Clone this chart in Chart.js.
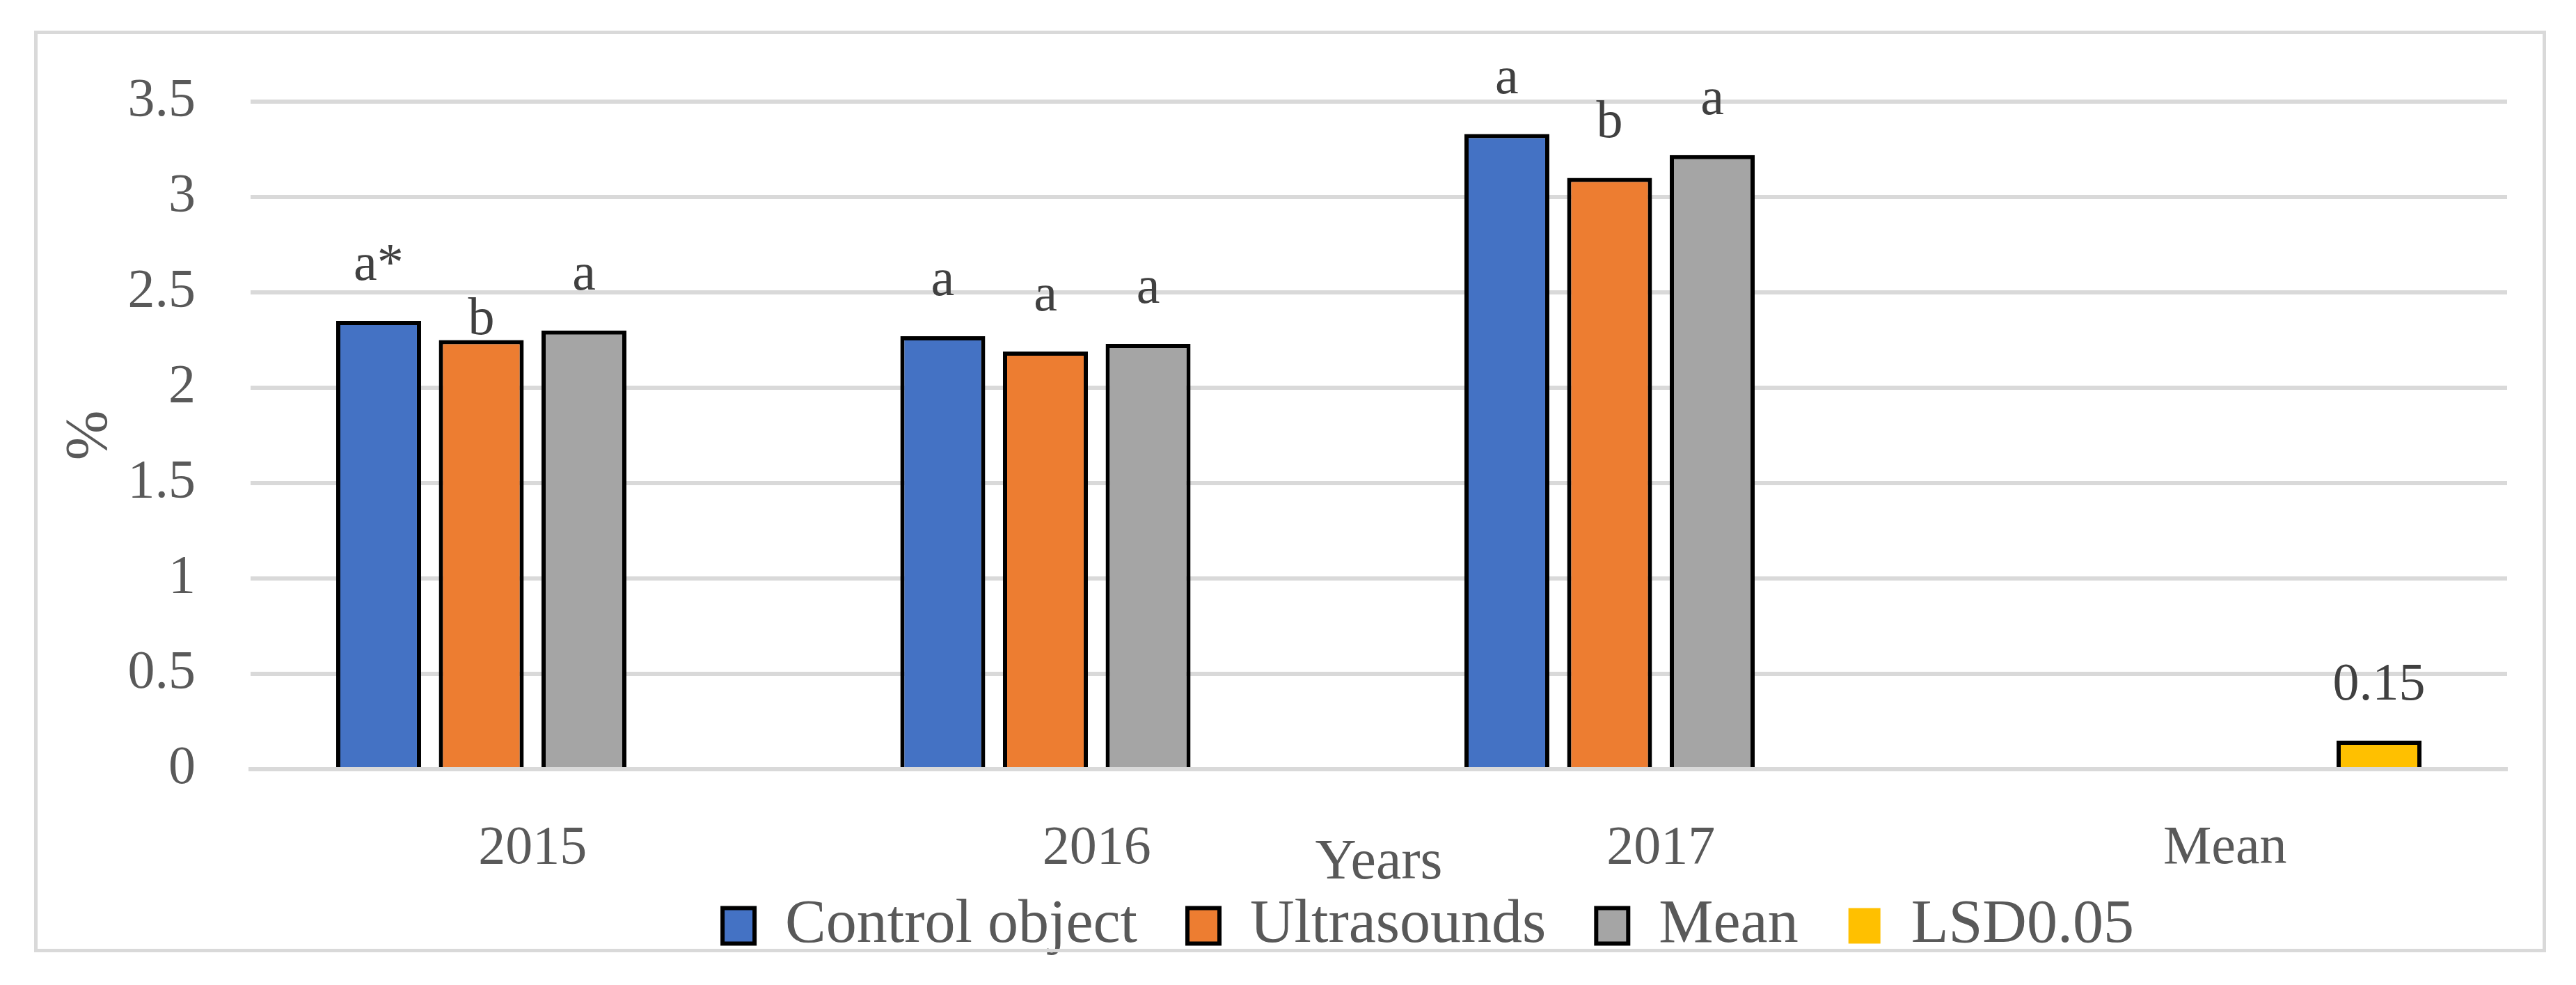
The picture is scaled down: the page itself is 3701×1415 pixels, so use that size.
<!DOCTYPE html>
<html>
<head>
<meta charset="utf-8">
<script src="https://cdn.jsdelivr.net/npm/chart.js@4"></script>
<style>
  html, body { margin: 0; padding: 0; background: #fff; }
  #wrap { position: relative; width: 3701px; height: 1415px; }
  #frame { position: absolute; left: 49px; top: 44px; width: 3599px; height: 1314px; border: 5px solid #d9d9d9; pointer-events: none; }
  canvas { position: absolute; left: 0; top: 0; }
</style>
</head>
<body>
<div id="wrap">
  <canvas id="chart" width="3701" height="1415"></canvas>
  <div id="frame"></div>
</div>
<script>
// Data
const categories = ['2015', '2016', '2017', 'Mean'];
const controlValues = [2.35, 2.27, 3.33, null];
const ultrasoundValues = [2.25, 2.19, 3.10, null];
const meanValues = [2.30, 2.23, 3.22, null];
const lsdValues = [null, null, null, 0.15];

// significance letters printed above the bars
const controlLetters = ['a*', 'a', 'a', ''];
const ultrasoundLetters = ['b', 'a', 'b', ''];
const meanLetters = ['a', 'a', 'a', ''];
const lsdLetters = ['', '', '', '0.15'];

const yTicks = [0, 0.5, 1, 1.5, 2, 2.5, 3, 3.5];

const serif = "'Liberation Serif', 'DejaVu Serif', serif";
Chart.defaults.font.family = serif;
Chart.defaults.color = '#595959';

// draws the letters above each bar
const barLetters = {
  id: 'barLetters',
  afterDatasetsDraw(chart) {
    const ctx = chart.ctx;
    ctx.save();
    ctx.font = '76px ' + serif;
    ctx.fillStyle = '#404040';
    ctx.textAlign = 'center';
    ctx.textBaseline = 'alphabetic';
    chart.data.datasets.forEach((ds, d) => {
      chart.getDatasetMeta(d).data.forEach((bar, i) => {
        const text = ds.letters[i];
        if (!text) return;
        // the "b" of 2015 sits right on top of its bar in the original
        const lift = (d === 1 && i === 0) ? 9 : 59;
        ctx.fillText(text, bar.x, bar.y - lift);
      });
    });
    ctx.restore();
  }
};

// legend sits a bit right of centre and overlaps the axis box in the original
const legendShift = {
  id: 'legendShift',
  afterLayout(chart) {
    const lg = chart.legend;
    const dx = 2052 - (lg.left + lg.right) / 2;
    const dy = 1214 - lg.top;
    lg.left += dx;
    lg.right += dx;
    lg.top += dy;
    lg.bottom += dy;
  }
};

const bar = (label, values, letters, color) => ({
  label: label,
  data: values,
  letters: letters,
  backgroundColor: color,
  borderColor: '#000000',
  borderWidth: 6,
  categoryPercentage: 0.728,
  barPercentage: 0.827
});

const ctx = document.getElementById('chart').getContext('2d');
const chart = new Chart(ctx, {
  type: 'bar',
  data: {
    labels: categories,
    datasets: [
      bar('Control object', controlValues, controlLetters, '#4472C4'),
      bar('Ultrasounds', ultrasoundValues, ultrasoundLetters, '#ED7D31'),
      bar('Mean', meanValues, meanLetters, '#A5A5A5'),
      bar('LSD0.05', lsdValues, lsdLetters, '#FFC000')
    ]
  },
  options: {
    responsive: false,
    devicePixelRatio: 1,
    animation: false,
    layout: { padding: { left: 52, right: 99, top: 146, bottom: -10 } },
    scales: {
      x: {
        z: 1,
        grid: { display: false },
        border: { display: true, color: '#d9d9d9', width: 6 },
        ticks: { padding: 60, font: { size: 78 } },
        title: { display: true, text: 'Years', font: { size: 82 }, padding: { top: 0, bottom: -35 } },
        afterFit: s => { s.height = 150; }
      },
      y: {
        min: 0,
        max: 3.5,
        afterBuildTicks: s => { s.ticks = yTicks.map(v => ({ value: v })); },
        grid: { color: '#d9d9d9', lineWidth: 6, drawTicks: false },
        border: { display: false },
        ticks: { padding: 79, font: { size: 78 }, callback: v => String(v) },
        title: { display: true, text: '%', font: { size: 86 }, padding: { top: 27, bottom: 0 } },
        afterFit: s => { s.width = 308; }
      }
    },
    plugins: {
      legend: {
        position: 'bottom',
        labels: {
          boxWidth: 46,
          boxHeight: 51,
          padding: 72,
          font: { size: 88 },
          generateLabels: c => {
            const items = Chart.defaults.plugins.legend.labels.generateLabels(c);
            items[3].lineWidth = 0; // LSD swatch has no outline
            return items;
          }
        }
      },
      tooltip: { enabled: false }
    }
  },
  plugins: [barLetters, legendShift]
});
</script>
</body>
</html>
